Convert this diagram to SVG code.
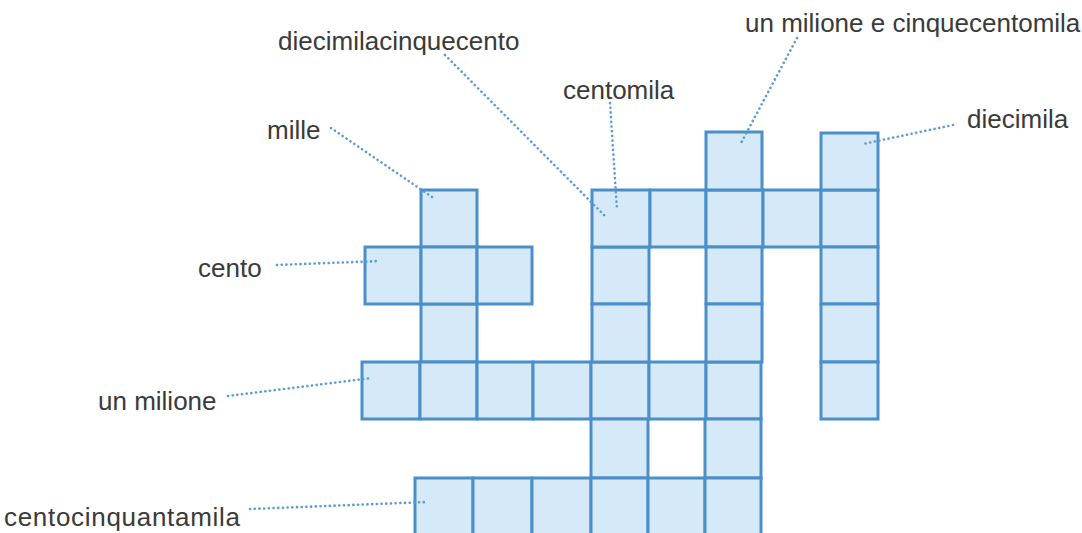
<svg xmlns="http://www.w3.org/2000/svg" width="1082" height="533" viewBox="0 0 1082 533">
<style>
.cell{fill:#d6e9f8;stroke:#4b8fca;stroke-width:3;stroke-linejoin:miter}
.lbl{font-family:"Liberation Sans",Arial,sans-serif;font-size:26px;fill:#3a3a3a}
.dot{fill:none;stroke:#5b9bd5;stroke-width:2.6;stroke-linecap:round;stroke-dasharray:0.1 4.6}
</style>
<rect width="1082" height="533" fill="#ffffff"/>
<g id="grid">
  <!-- column mille -->
  <rect class="cell" x="421" y="190" width="56" height="57"/>
  <rect class="cell" x="421" y="304" width="56" height="58"/>
  <!-- cento row -->
  <rect class="cell" x="365" y="247" width="56" height="57"/>
  <rect class="cell" x="421" y="247" width="56" height="57"/>
  <rect class="cell" x="477" y="247" width="55" height="57"/>
  <!-- un milione row -->
  <rect class="cell" x="362" y="362" width="58" height="57"/>
  <rect class="cell" x="420" y="362" width="57" height="57"/>
  <rect class="cell" x="477" y="362" width="56" height="57"/>
  <rect class="cell" x="533" y="362" width="58" height="57"/>
  <rect class="cell" x="591" y="362" width="58" height="57"/>
  <rect class="cell" x="649" y="362" width="57" height="57"/>
  <rect class="cell" x="706" y="362" width="55" height="57"/>
  <!-- column centomila -->
  <rect class="cell" x="592" y="247" width="57" height="57"/>
  <rect class="cell" x="592" y="304" width="57" height="58"/>
  <rect class="cell" x="591" y="419" width="57" height="59"/>
  <!-- top row -->
  <rect class="cell" x="592" y="190" width="58" height="57"/>
  <rect class="cell" x="650" y="190" width="56" height="57"/>
  <rect class="cell" x="706" y="190" width="57" height="57"/>
  <rect class="cell" x="763" y="190" width="58" height="57"/>
  <rect class="cell" x="821" y="190" width="57" height="57"/>
  <!-- column un milione e cinquecentomila -->
  <rect class="cell" x="706" y="132" width="56" height="58"/>
  <rect class="cell" x="706" y="247" width="56" height="57"/>
  <rect class="cell" x="706" y="304" width="56" height="58"/>
  <rect class="cell" x="705" y="419" width="56" height="59"/>
  <!-- column diecimila -->
  <rect class="cell" x="821" y="133" width="57" height="57"/>
  <rect class="cell" x="821" y="247" width="57" height="57"/>
  <rect class="cell" x="821" y="304" width="57" height="58"/>
  <rect class="cell" x="821" y="362" width="57" height="57"/>
  <!-- bottom row -->
  <rect class="cell" x="415" y="478" width="58" height="58"/>
  <rect class="cell" x="473" y="478" width="59" height="58"/>
  <rect class="cell" x="532" y="478" width="59" height="58"/>
  <rect class="cell" x="591" y="478" width="57" height="58"/>
  <rect class="cell" x="648" y="478" width="57" height="58"/>
  <rect class="cell" x="705" y="478" width="56" height="58"/>
</g>
<g id="connectors">
  <path class="dot" d="M331 128 L435 199"/>
  <path class="dot" d="M277 265 L380 261"/>
  <path class="dot" d="M445 55 L607 218"/>
  <path class="dot" d="M610 103 L617 210"/>
  <path class="dot" d="M797 38 L740 145"/>
  <path class="dot" d="M953 125 L863 144"/>
  <path class="dot" d="M228 396 L372 378"/>
  <path class="dot" d="M250 509 L427 502"/>
</g>
<g id="label-diecimilacinquecento"><text class="lbl" x="278" y="50">diecimilacinquecento</text></g>
<g id="label-centomila"><text class="lbl" x="563" y="99">centomila</text></g>
<g id="label-un-milione-e-cinquecentomila"><text class="lbl" x="745" y="32">un milione e cinquecentomila</text></g>
<g id="label-diecimila"><text class="lbl" x="967" y="128">diecimila</text></g>
<g id="label-mille"><text class="lbl" x="267" y="139">mille</text></g>
<g id="label-cento"><text class="lbl" x="198" y="277">cento</text></g>
<g id="label-un-milione"><text class="lbl" x="98" y="410">un milione</text></g>
<g id="label-centocinquantamila"><text class="lbl" x="4" y="526" textLength="236">centocinquantamila</text></g>
</svg>
